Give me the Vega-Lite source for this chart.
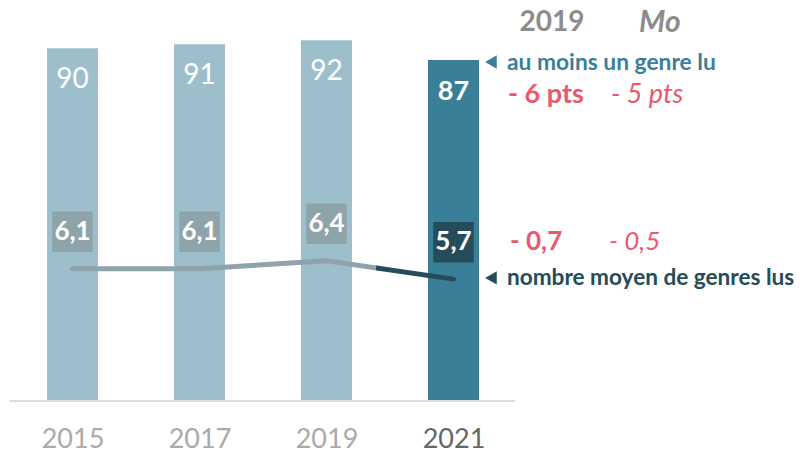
{
  "$schema": "https://vega.github.io/schema/vega-lite/v6.json",
  "width": 800,
  "height": 401,
  "padding": 0,
  "autosize": {"type": "pad"},
  "config": {
    "font": "Lato",
    "view": {"stroke": null},
    "locale": {"number": {"decimal": ",", "thousands": " ", "grouping": [3], "currency": ["", " €"]}}
  },
  "datasets": {
    "main": [
      {"year": 2015, "pct": 90, "genres": 6.1},
      {"year": 2017, "pct": 91, "genres": 6.1},
      {"year": 2019, "pct": 92, "genres": 6.4},
      {"year": 2021, "pct": 87, "genres": 5.7}
    ],
    "one": [{"n": 1}]
  },
  "layer": [
    {
      "data": {"name": "main"},
      "encoding": {
        "x": {
          "field": "year",
          "type": "quantitative",
          "scale": {"domain": [2013.858, 2026.457], "nice": false, "zero": false, "padding": 0},
          "axis": {
            "values": [2015, 2017, 2019, 2021],
            "format": "d",
            "title": null,
            "grid": false,
            "ticks": false,
            "tickSize": 0,
            "domain": false,
            "labelFont": "Lato",
            "labelFontSize": 27,
            "labelPadding": 25,
            "labelFlush": false,
            "labelColor": {"expr": "datum.value == 2021 ? '#666666' : '#aaaaaa'"}
          }
        }
      },
      "layer": [
        {
          "encoding": {
            "y": {"field": "pct", "type": "quantitative", "scale": {"domain": [0, 102.3], "nice": false, "zero": true}, "axis": null}
          },
          "layer": [
            {
              "mark": {"type": "bar", "size": 51},
              "encoding": {
                "color": {"condition": {"test": "datum.year == 2021", "value": "#3a7f98"}, "value": "#9dbfcc"}
              }
            },
            {
              "transform": [{"filter": "datum.year != 2021"}],
              "mark": {"type": "text", "dy": 32, "baseline": "middle", "align": "center", "fontSize": 28, "color": "#ffffff"},
              "encoding": {"text": {"field": "pct", "type": "quantitative"}}
            },
            {
              "transform": [{"filter": "datum.year == 2021"}],
              "mark": {"type": "text", "dy": 32, "baseline": "middle", "align": "center", "fontSize": 27, "fontWeight": "bold", "color": "#ffffff"},
              "encoding": {"text": {"field": "pct", "type": "quantitative"}}
            }
          ]
        },
        {
          "encoding": {
            "y": {"field": "genres", "type": "quantitative", "scale": {"domain": [1.05, 16.35], "nice": false, "zero": false}, "axis": null}
          },
          "layer": [
            {
              "transform": [{"filter": "datum.year <= 2019"}],
              "mark": {"type": "line", "strokeWidth": 5, "strokeCap": "round", "color": "#8fa3aa"},
              "encoding": {}
            },
            {
              "transform": [{"filter": "datum.year >= 2019"}],
              "mark": {
                "type": "line",
                "strokeWidth": 5,
                "strokeCap": "round",
                "color": {
                  "gradient": "linear",
                  "x1": 0, "y1": 0, "x2": 1, "y2": 0,
                  "stops": [
                    {"offset": 0, "color": "#8fa3aa"},
                    {"offset": 0.39, "color": "#8fa3aa"},
                    {"offset": 0.39, "color": "#244c5a"},
                    {"offset": 1, "color": "#244c5a"}
                  ]
                }
              },
              "encoding": {}
            },
            {
              "mark": {"type": "square", "size": 1640, "filled": true, "opacity": 1, "yOffset": -37},
              "encoding": {
                "color": {"condition": {"test": "datum.year == 2021", "value": "#244c5a"}, "value": "#8fa3aa"}
              }
            },
            {
              "mark": {"type": "text", "yOffset": -37, "baseline": "middle", "align": "center", "fontSize": 26, "fontWeight": "bold", "color": "#ffffff"},
              "encoding": {"text": {"field": "genres", "type": "quantitative", "format": ".1f"}}
            }
          ]
        }
      ],
      "resolve": {"scale": {"y": "independent"}}
    },
    {
      "data": {"name": "one"},
      "layer": [
        {
          "mark": {"type": "rule", "color": "#dddddd", "strokeWidth": 2},
          "encoding": {
            "x": {"datum": 2014.01, "type": "quantitative"},
            "x2": {"datum": 2021.968},
            "y": {"datum": 0, "type": "quantitative", "scale": {"domain": [0, 102.3], "nice": false, "zero": false}, "axis": null}
          }
        },
        {
          "mark": {"type": "text", "text": "2019", "align": "center", "baseline": "middle", "fontSize": 28, "fontWeight": "bold", "color": "#8c8c8c"},
          "encoding": {
            "x": {"datum": 2022.551, "type": "quantitative"},
            "y": {"datum": 96.4, "type": "quantitative", "scale": {"domain": [0, 102.3], "nice": false, "zero": false}, "axis": null}
          }
        },
        {
          "mark": {"type": "text", "text": "Mo", "align": "left", "baseline": "middle", "fontSize": 30, "fontWeight": "bold", "fontStyle": "italic", "color": "#8c8c8c"},
          "encoding": {
            "x": {"datum": 2023.921, "type": "quantitative"},
            "y": {"datum": 96.4, "type": "quantitative", "scale": {"domain": [0, 102.3], "nice": false, "zero": false}, "axis": null}
          }
        },
        {
          "mark": {"type": "point", "shape": "triangle-left", "filled": true, "opacity": 1, "size": 180, "color": "#3a7f98"},
          "encoding": {
            "x": {"datum": 2021.59, "type": "quantitative"},
            "y": {"datum": 86.5, "type": "quantitative", "scale": {"domain": [0, 102.3], "nice": false, "zero": false}, "axis": null}
          }
        },
        {
          "mark": {"type": "text", "text": "au moins un genre lu", "align": "left", "baseline": "middle", "fontSize": 22.8, "fontWeight": "bold", "color": "#3a7f98"},
          "encoding": {
            "x": {"datum": 2021.842, "type": "quantitative"},
            "y": {"datum": 86.3, "type": "quantitative", "scale": {"domain": [0, 102.3], "nice": false, "zero": false}, "axis": null}
          }
        },
        {
          "mark": {"type": "text", "text": "- 6 pts", "align": "left", "baseline": "middle", "fontSize": 27, "fontWeight": "bold", "color": "#e8596e"},
          "encoding": {
            "x": {"datum": 2021.858, "type": "quantitative"},
            "y": {"datum": 78.0, "type": "quantitative", "scale": {"domain": [0, 102.3], "nice": false, "zero": false}, "axis": null}
          }
        },
        {
          "mark": {"type": "text", "text": "- 5 pts", "align": "left", "baseline": "middle", "fontSize": 27, "fontStyle": "italic", "color": "#e8596e"},
          "encoding": {
            "x": {"datum": 2023.48, "type": "quantitative"},
            "y": {"datum": 78.0, "type": "quantitative", "scale": {"domain": [0, 102.3], "nice": false, "zero": false}, "axis": null}
          }
        },
        {
          "mark": {"type": "text", "text": "- 0,7", "align": "left", "baseline": "middle", "fontSize": 26, "fontWeight": "bold", "color": "#e8596e"},
          "encoding": {
            "x": {"datum": 2021.89, "type": "quantitative"},
            "y": {"datum": 40.6, "type": "quantitative", "scale": {"domain": [0, 102.3], "nice": false, "zero": false}, "axis": null}
          }
        },
        {
          "mark": {"type": "text", "text": "- 0,5", "align": "left", "baseline": "middle", "fontSize": 26, "fontStyle": "italic", "color": "#e8596e"},
          "encoding": {
            "x": {"datum": 2023.449, "type": "quantitative"},
            "y": {"datum": 40.6, "type": "quantitative", "scale": {"domain": [0, 102.3], "nice": false, "zero": false}, "axis": null}
          }
        },
        {
          "mark": {"type": "point", "shape": "triangle-left", "filled": true, "opacity": 1, "size": 180, "color": "#244c5a"},
          "encoding": {
            "x": {"datum": 2021.59, "type": "quantitative"},
            "y": {"datum": 31.4, "type": "quantitative", "scale": {"domain": [0, 102.3], "nice": false, "zero": false}, "axis": null}
          }
        },
        {
          "mark": {"type": "text", "text": "nombre moyen de genres lus", "align": "left", "baseline": "middle", "fontSize": 22.6, "fontWeight": "bold", "color": "#244c5a"},
          "encoding": {
            "x": {"datum": 2021.842, "type": "quantitative"},
            "y": {"datum": 31.4, "type": "quantitative", "scale": {"domain": [0, 102.3], "nice": false, "zero": false}, "axis": null}
          }
        }
      ]
    }
  ],
  "resolve": {"scale": {"y": "independent"}}
}
